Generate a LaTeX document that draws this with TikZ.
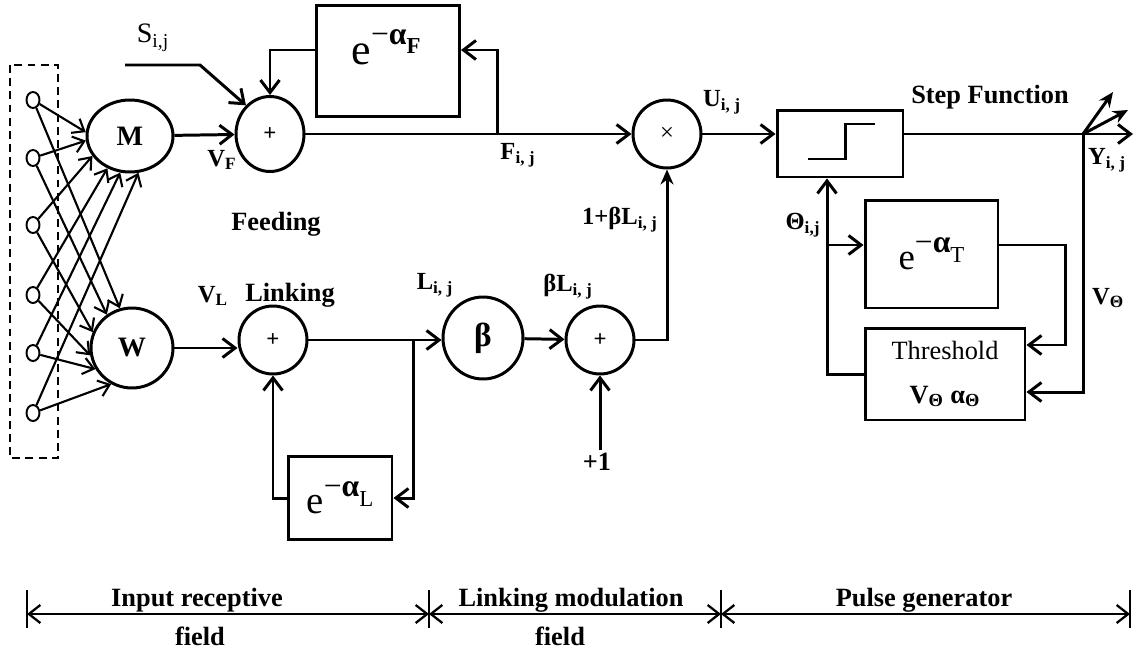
\documentclass[tikz,border=0pt]{standalone}
\usepackage{fontspec}
\setmainfont{Liberation Serif}
\usepackage{tikz}
\usetikzlibrary{arrows.meta,positioning,shapes.geometric}

\newcommand{\decay}[1]{e\raisebox{0.45em}{\fontsize{18}{18}\selectfont −\textbf{α}\raisebox{-0.3em}{\fontsize{13}{13}\selectfont #1}}}
\newcommand{\idx}[1]{#1\textsubscript{i, j}}

\begin{document}
\begin{tikzpicture}[
    x=0.02cm, y=-0.02cm,
    line width=1.7pt,
    every node/.style={font=\fontsize{14}{16}\selectfont\bfseries, inner sep=1pt},
    sumnode/.style={draw, ellipse, minimum width=1.36cm, minimum height=1.36cm, inner sep=0pt, font=\fontsize{13}{14}\selectfont\bfseries},
    cell/.style={draw, ellipse, minimum width=1.72cm, minimum height=1.44cm, inner sep=0pt, font=\fontsize{16}{18}\selectfont\bfseries},
    blk/.style={draw, rectangle, inner sep=0pt},
    inp/.style={draw, ellipse, minimum width=0.26cm, minimum height=0.32cm, inner sep=0pt, line width=1.1pt},
    word/.style={font=\fontsize{15}{17}\selectfont\bfseries},
    arr/.style={-{Straight Barb[length=2.5mm,width=3.8mm]}},
    iarr/.style={-{Straight Barb[length=2.1mm,width=3.3mm]}, line width=1.2pt},
    farr/.style={-{Stealth[length=3mm,width=2.6mm]}},
    span/.style={{Straight Barb[length=2.3mm,width=3.6mm]}-{Straight Barb[length=2.3mm,width=3.6mm]}, line width=1.3pt},
]
\fill[white] (0,0) rectangle (1138,649);
\useasboundingbox (0,0) rectangle (1138,649);

% Input receptive field
\draw[line width=1.3pt, dash pattern=on 4.5pt off 3pt] (10,65) rectangle (58,458);
\foreach \y [count=\i] in {100,158,225,295,353,413}
    \node[inp] (in\i) at (33,\y) {};
\node[cell] (m) at (130,136) {M};
\node[cell, minimum width=1.64cm, minimum height=1.6cm] (w) at (132,348) {W};
\foreach \i/\a/\b in {1/175/107, 2/186/127, 3/208/158, 4/235/190, 5/255/210, 6/283/240} {
    \draw[iarr] (in\i) -- (m.\a);
    \draw[iarr] (in\i) -- (w.\b);
}

% Feeding
\node[sumnode, minimum height=1.5cm] (fsum) at (270,134) {+};
\node[blk, minimum width=2.86cm, minimum height=2.24cm] (fdecay) at (388,61) {};
\node[font=\fontsize{25}{27}\selectfont] (fdecaytxt) at (386,47) {\decay{\textbf{F}}};
\node[sumnode, font=\fontsize{14}{15}\selectfont] (mult) at (667,134) {×};
\node[font=\fontsize{16}{18}\selectfont] (slbl) at (153,38) {S\textsubscript{i,j}};
\node (vflbl) at (222,160) {V\textsubscript{F}};
\node[word] (feeding) at (276,224) {Feeding};
\node (flbl) at (518,155) {\idx{F}};
\node (ulbl) at (722,102) {\idx{U}};
\coordinate (sin) at (125,65);
\coordinate (sbend) at (200,65);
\coordinate (ftap) at (497,134);
\coordinate (fback) at (497,50);
\draw[arr] (sin) -- (sbend) -- (fsum.130);
\draw[arr] (m) -- (fsum);
\draw[arr] (fsum) -- (mult);
\draw[arr] (ftap) |- (fdecay.east |- fback);
\draw[arr] (fdecay.west |- fback) -| (fsum.north);

% Linking
\node[sumnode] (lsum) at (273,340) {+};
\node[sumnode, minimum width=1.6cm, minimum height=1.64cm, font=\fontsize{19}{21}\selectfont\bfseries] (beta) at (483,338) {β};
\node[sumnode] (bsum) at (600,340) {+};
\node[blk, minimum width=2.08cm, minimum height=1.66cm, font=\fontsize{22}{24}\selectfont\mdseries] (ldecay) at (340,498) {\decay{L}};
\node (vllbl) at (213,296) {V\textsubscript{L}};
\node[word] (linking) at (290,295) {Linking};
\node (llbl) at (435,285) {\idx{L}};
\node (bllbl) at (568,287) {β\idx{L}};
\node (modlbl) at (620,220) {1+β\idx{L}};
\node[font=\fontsize{15}{17}\selectfont\bfseries] (one) at (597,462) {+1};
\coordinate (ltap) at (413,340);
\draw[arr] (w.east) -- (w.east -| lsum.west);
\draw[arr] (lsum.east) -- (lsum.east -| beta.west);
\draw[arr] (ltap) |- (ldecay.east);
\draw[arr] (ldecay.west) -| (lsum.south);
\draw[arr] (beta) -- (bsum);
\draw[arr] (bsum.south |- one.north) -- (bsum.south);
\draw[farr] (bsum.east) -| (mult.south);

% Pulse generator
\node[blk, minimum width=2.52cm, minimum height=1.34cm] (stepfn) at (840,143.5) {};
\draw (808,159) -- (845,159) -- (845,124) -- (875,124);
\node[blk, minimum width=2.66cm, minimum height=2.16cm, font=\fontsize{21}{23}\selectfont\mdseries] (tdecay) at (931.5,254) {\decay{T}};
\node[blk, minimum width=3.2cm, minimum height=1.84cm, align=center, font=\fontsize{15}{17}\selectfont\bfseries] (thr) at (945,374) {{\mdseries Threshold}\\[8pt]V\textsubscript{Θ} α\textsubscript{Θ}};
\node[word] (steplbl) at (990,97) {Step Function};
\node (ylbl) at (1107,160) {\idx{Y}};
\node (vthlbl) at (1108,298) {V\textsubscript{Θ}};
\node (thlbl) at (803,225) {Θ\textsubscript{i,j}};
\coordinate (ybr) at (1083,134);
\coordinate (yout) at (1133,134);
\coordinate (yup) at (1113,92);
\coordinate (yside) at (1128,110);
\coordinate (vtheta) at (1083,392);
\coordinate (ttap) at (1065,245);
\coordinate (tin) at (1065,345);
\coordinate (thtap) at (827,245);
\draw[arr] (mult) -- (mult -| stepfn.west);
\draw (stepfn.east |- ybr) -- (ybr);
\draw[arr] (ybr) -- (yout);
\draw[farr] (ybr) -- (yup);
\draw[farr] (ybr) -- (yside);
\draw[arr] (ybr) |- (thr.east |- vtheta);
\draw[arr] (tdecay.east |- ttap) -- (ttap) -- (tin) -- (tin -| thr.east);
\draw[arr] (thr.west) -| (thtap) -- (thtap |- stepfn.south);
\draw[arr] (thtap) -- (thtap -| tdecay.west);

% Spans
\foreach \x [count=\i] in {27,429,721,1130} {
    \coordinate (t\i) at (\x,614);
    \draw[line width=1.1pt] (\x,590) -- (\x,628);
}
\draw[span] (t1) -- (t2);
\draw[span] (t2) -- (t3);
\draw[span] (t3) -- (t4);
\node[word] (rflbl) at (197,600) {Input receptive};
\node[word] (rflbl2) at (200,636) {field};
\node[word] (lmlbl) at (571,600) {Linking modulation};
\node[word] (lmlbl2) at (560,636) {field};
\node[word] (pglbl) at (924,600) {Pulse generator};
\end{tikzpicture}
\end{document}
